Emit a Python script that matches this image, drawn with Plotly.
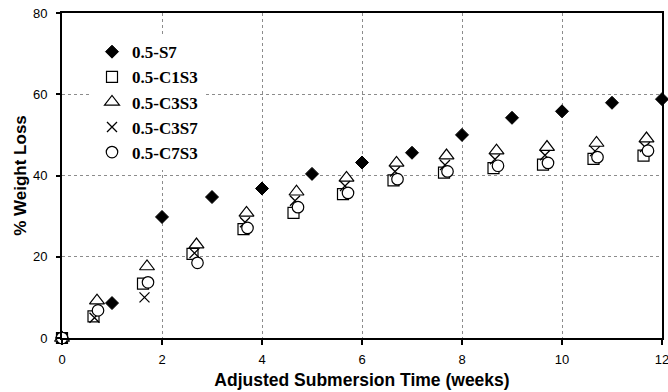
import plotly.graph_objects as go

# Data
s7_x = [0, 1, 2, 3, 4, 5, 6, 7, 8, 9, 10, 11, 12]
s7_y = [0, 8.6, 29.8, 34.7, 36.8, 40.4, 43.2, 45.6, 50.0, 54.2, 55.8, 57.9, 58.8]

c1s3_x = [0, 0.63, 1.62, 2.61, 3.63, 4.63, 5.62, 6.63, 7.64, 8.63, 9.62, 10.63, 11.63]
c1s3_y = [0, 5.3, 13.4, 20.7, 26.8, 30.8, 35.4, 38.8, 40.7, 41.8, 42.7, 44.1, 44.9]

c3s3_x = [0, 0.70, 1.70, 2.69, 3.69, 4.69, 5.69, 6.69, 7.69, 8.69, 9.70, 10.69, 11.69]
c3s3_y = [0, 9.2, 17.6, 23.0, 30.8, 36.0, 39.4, 43.1, 44.9, 46.1, 47.0, 48.0, 49.1]

c3s7_x = [0, 0.65, 1.65, 2.65, 3.66, 4.66, 5.66, 6.66, 7.66, 8.66, 9.66, 10.66, 11.66]
c3s7_y = [0, 5.0, 10.0, 20.9, 28.5, 33.8, 37.4, 41.0, 42.6, 44.0, 45.0, 46.0, 47.0]

c7s3_x = [0, 0.72, 1.72, 2.71, 3.71, 4.72, 5.72, 6.71, 7.71, 8.72, 9.72, 10.71, 11.72]
c7s3_y = [0, 6.8, 13.7, 18.5, 27.1, 32.2, 35.7, 39.1, 41.0, 42.4, 43.1, 44.5, 46.1]

x_ticks = [0, 2, 4, 6, 8, 10, 12]
y_ticks = [0, 20, 40, 60, 80]

series = [
    ("0.5-S7", s7_x, s7_y, dict(symbol="diamond", size=10, color="black",
                                line=dict(color="black", width=1))),
    ("0.5-C1S3", c1s3_x, c1s3_y, dict(symbol="square", size=11, color="white",
                                      line=dict(color="black", width=1.2))),
    ("0.5-C3S3", c3s3_x, c3s3_y, dict(symbol="triangle-up", size=13, color="white",
                                      line=dict(color="black", width=1.2))),
    ("0.5-C3S7", c3s7_x, c3s7_y, dict(symbol="x-thin", size=10, color="black",
                                      line=dict(color="black", width=1.3))),
    ("0.5-C7S3", c7s3_x, c7s3_y, dict(symbol="circle", size=11.5, color="white",
                                      line=dict(color="black", width=1.2))),
]

fig = go.Figure()
for name, xs, ys, mk in series:
    fig.add_trace(go.Scatter(x=xs, y=ys, name=name, mode="markers",
                             marker=mk, cliponaxis=False))

fig.update_layout(
    width=668, height=392,
    margin=dict(l=62, r=6, t=13, b=54),
    paper_bgcolor="white", plot_bgcolor="white",
    font=dict(family="Arial, Liberation Sans, sans-serif", color="black"),
    showlegend=True,
    legend=dict(
        x=0.05, y=0.935, xanchor="left", yanchor="top",
        bgcolor="white", borderwidth=0,
        font=dict(family="Times New Roman, Liberation Serif, serif", size=17,
                  color="black", weight="bold"),
        itemwidth=30,
    ),
)
fig.update_xaxes(
    range=[0, 12], tickvals=x_ticks, ticktext=[str(v) for v in x_ticks],
    showgrid=True, gridcolor="#8c8c8c", griddash="dot", gridwidth=1,
    showline=True, linecolor="black", linewidth=2, mirror=True,
    ticks="outside", ticklen=5, tickcolor="black", tickwidth=1.5,
    tickfont=dict(size=13), ticklabelstandoff=3, ticklabeloverflow="allow",
    zeroline=False, automargin=False,
    title=dict(text="<b>Adjusted Submersion Time (weeks)</b>",
               font=dict(size=17.5), standoff=8),
)
fig.update_yaxes(
    range=[0, 80], tickvals=y_ticks, ticktext=[str(v) for v in y_ticks],
    showgrid=True, gridcolor="#8c8c8c", griddash="dot", gridwidth=1,
    showline=True, linecolor="black", linewidth=2, mirror=True,
    ticks="outside", ticklen=4, tickcolor="black", tickwidth=1.5,
    tickfont=dict(size=13), ticklabelstandoff=6, ticklabeloverflow="allow",
    zeroline=False, automargin=False,
    title=dict(text="<b>% Weight Loss</b>", font=dict(size=17), standoff=2),
)

fig.write_html("out.html")
